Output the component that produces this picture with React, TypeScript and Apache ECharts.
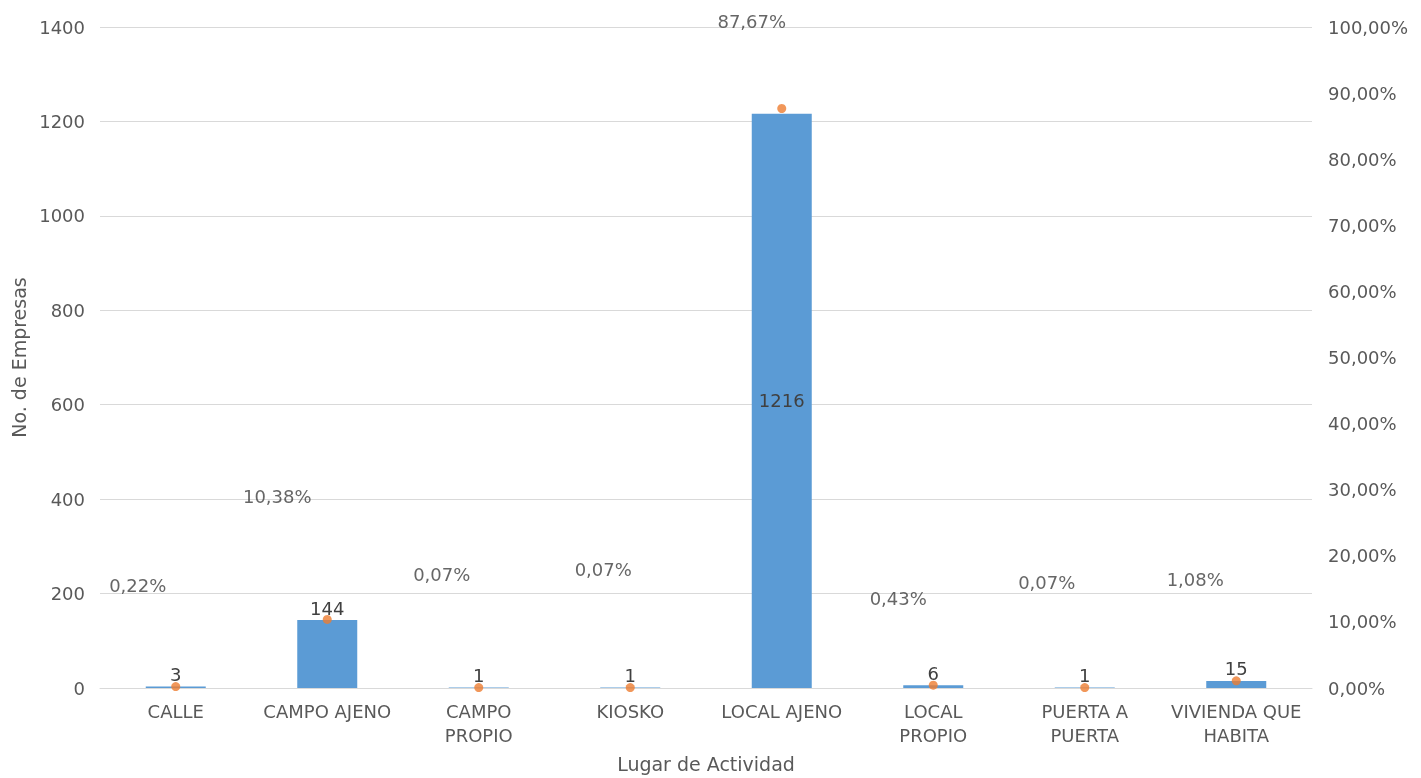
import React, { useEffect, useRef } from "react";
import * as echarts from "echarts";

const categories = [
  "CALLE",
  "CAMPO AJENO",
  "CAMPO\nPROPIO",
  "KIOSKO",
  "LOCAL AJENO",
  "LOCAL\nPROPIO",
  "PUERTA A\nPUERTA",
  "VIVIENDA QUE\nHABITA",
];
const empresas = [3, 144, 1, 1, 1216, 6, 1, 15];
const porcentajes = [0.22, 10.38, 0.07, 0.07, 87.67, 0.43, 0.07, 1.08];
const leftTicks = { min: 0, max: 1400, interval: 200 };
const rightTicks = { min: 0, max: 100, interval: 10 };

// label offsets (layout only)
const pctLabelOffsets: [number, number][] = [
  [-38, -101],
  [-50, -123],
  [-37, -113],
  [-27, -118],
  [-30, -87],
  [-35, -87],
  [-38, -105],
  [-41, -101],
];

const FONT = "DejaVu Sans";
const fmtPct = (v: number) => v.toFixed(2).replace(".", ",") + "%";

export default function App() {
  const ref = useRef<HTMLDivElement>(null);
  useEffect(() => {
    if (!ref.current) return;
    const chart = echarts.init(ref.current, null, { renderer: "svg" });
    chart.setOption({
      animation: false,
      textStyle: { fontFamily: FONT },
      grid: { left: 100, right: 109, top: 27, bottom: 87 },
      xAxis: {
        type: "category",
        data: categories,
        axisTick: { show: false },
        axisLine: { lineStyle: { color: "#d9d9d9", width: 1 } },
        axisLabel: {
          color: "#595959",
          fontSize: 18,
          fontFamily: FONT,
          margin: 11,
          lineHeight: 24,
          interval: 0,
        },
        name: "Lugar de Actividad",
        nameLocation: "middle",
        nameGap: 66,
        nameTextStyle: { color: "#595959", fontSize: 19, fontFamily: FONT },
      },
      yAxis: [
        {
          type: "value",
          ...leftTicks,
          axisLine: { show: false },
          axisTick: { show: false },
          splitLine: { lineStyle: { color: "#d9d9d9", width: 1 } },
          axisLabel: {
            color: "#595959",
            fontSize: 18,
            fontFamily: FONT,
            margin: 15,
            formatter: (v: number) => String(v),
          },
          name: "No. de Empresas",
          nameLocation: "middle",
          nameGap: 71,
          nameTextStyle: { color: "#595959", fontSize: 19, fontFamily: FONT },
        },
        {
          type: "value",
          ...rightTicks,
          position: "right",
          axisLine: { show: false },
          axisTick: { show: false },
          splitLine: { show: false },
          axisLabel: {
            color: "#595959",
            fontSize: 18,
            fontFamily: FONT,
            margin: 16,
            formatter: (v: number) => fmtPct(v),
          },
        },
      ],
      series: [
        {
          type: "bar",
          yAxisIndex: 0,
          barWidth: 60,
          itemStyle: { color: "#5B9BD5" },
          label: {
            show: true,
            position: "top",
            distance: 3,
            color: "#404040",
            fontSize: 18,
            fontFamily: FONT,
          },
          data: empresas.map((v, i) =>
            i === 4 ? { value: v, label: { position: "inside" } } : v
          ),
          z: 2,
        },
        {
          type: "scatter",
          yAxisIndex: 1,
          symbol: "circle",
          symbolSize: 9,
          itemStyle: { color: "#ED7D31" },
          label: {
            show: true,
            position: "inside",
            color: "#404040",
            fontSize: 18,
            fontFamily: FONT,
            formatter: (p: any) => fmtPct(p.value),
          },
          data: porcentajes.map((v, i) => ({
            value: v,
            label: { offset: pctLabelOffsets[i] },
          })),
          z: 3,
        },
      ],
    });
    return () => chart.dispose();
  }, []);
  return (
    <div
      ref={ref}
      style={{ position: "fixed", left: 0, top: 0, width: 1421, height: 778 }}
    />
  );
}
